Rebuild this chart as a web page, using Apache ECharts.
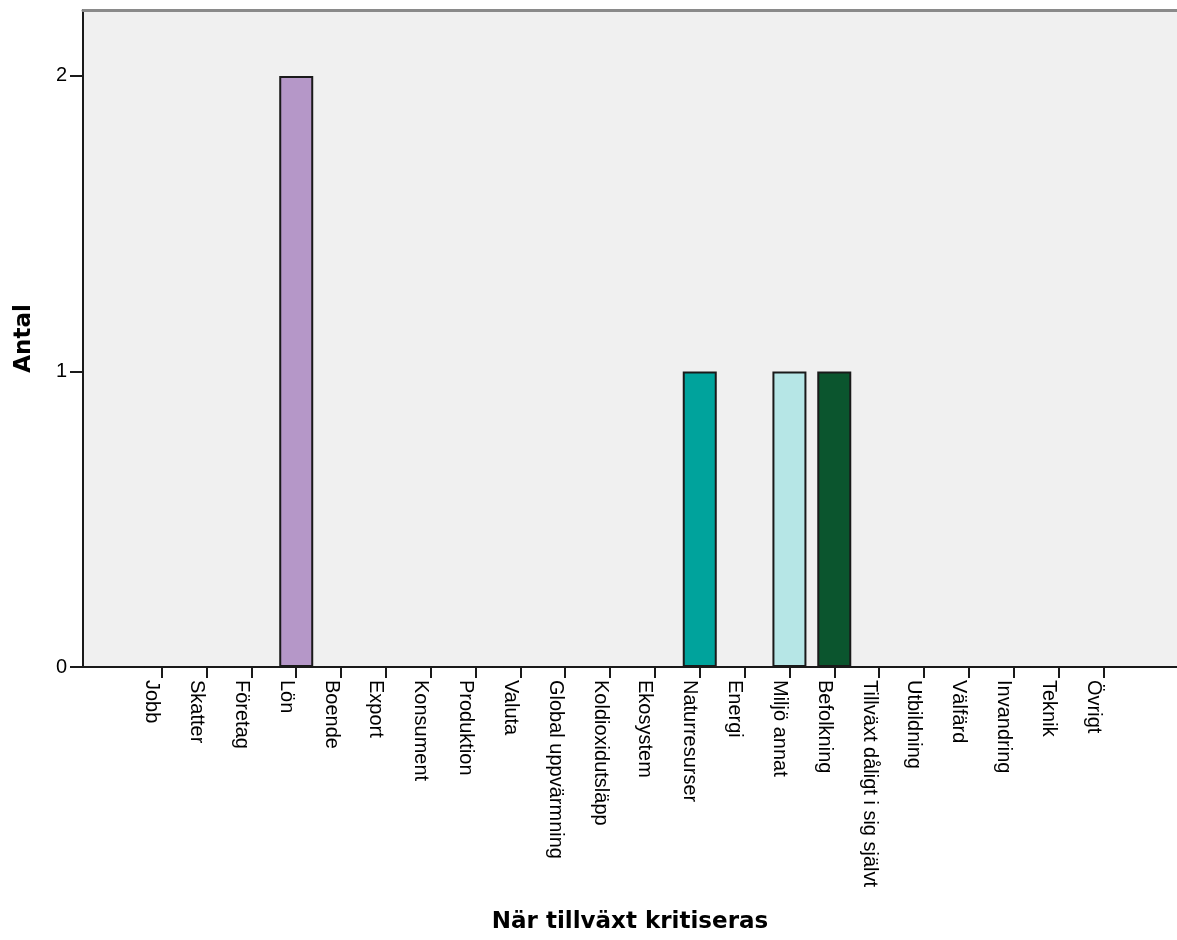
<!DOCTYPE html>
<html>
<head>
<meta charset="utf-8">
<script src="https://cdn.jsdelivr.net/npm/echarts@6/dist/echarts.min.js"></script>
<style>
html,body{margin:0;padding:0;background:#fff;}
#chart{width:1177px;height:940px;}
</style>
</head>
<body>
<div id="chart"></div>
<script>
const categories = ["Jobb","Skatter","Företag","Lön","Boende","Export","Konsument","Produktion","Valuta","Global uppvärmning","Koldioxidutsläpp","Ekosystem","Naturresurser","Energi","Miljö annat","Befolkning","Tillväxt dåligt i sig självt","Utbildning","Välfärd","Invandring","Teknik","Övrigt"];
const counts = [0,0,0,2,0,0,0,0,0,0,0,0,1,0,1,1,0,0,0,0,0,0];
const barColors = {"Lön":"#b597c8","Naturresurser":"#00a39c","Miljö annat":"#b6e6e6","Befolkning":"#0b552e"};
const yTicks = [0,1,2];
const yMax = 2.223;
const xTitle = "När tillväxt kritiseras";
const yTitle = "Antal";

const chart = echarts.init(document.getElementById('chart'), null, {renderer:'canvas'});
const labelFont = "'Liberation Sans', Arial, sans-serif";
const titleFont = "'DejaVu Sans', sans-serif";

const option = {
  animation: false,
  backgroundColor: '#ffffff',
  grid: [
    {left: 83, top: 10, right: 0, bottom: 273, show: true, backgroundColor: '#f0f0f0', borderWidth: 0},
    {left: 139.3, top: 10, right: 51.3, bottom: 273}
  ],
  xAxis: [
    {gridIndex: 0, type: 'value', position: 'top', min: 0, max: 1,
      axisLine: {show: true, onZero: false, lineStyle: {color: '#8a8a8a', width: 3}},
      axisTick: {show: false}, axisLabel: {show: false}, splitLine: {show: false}},
    {gridIndex: 0, type: 'value', position: 'bottom', min: 0, max: 1,
      name: xTitle, nameLocation: 'middle', nameGap: 244,
      nameTextStyle: {fontFamily: titleFont, fontWeight: 'bold', fontSize: 23, color: '#000'},
      axisLine: {show: true, onZero: false, lineStyle: {color: '#1a1a1a', width: 2}},
      axisTick: {show: false}, axisLabel: {show: false}, splitLine: {show: false}},
    {gridIndex: 1, type: 'category', data: categories, position: 'bottom',
      axisLine: {show: false},
      axisTick: {show: true, alignWithLabel: true, length: 11, lineStyle: {color: '#1a1a1a', width: 2}},
      axisLabel: {interval: 0, rotate: -90, margin: 13, fontSize: 20, fontFamily: labelFont, color: '#000', verticalAlign: 'top'},
      splitLine: {show: false}}
  ],
  yAxis: [
    {gridIndex: 0, type: 'value', min: 0, max: yMax,
      name: yTitle, nameLocation: 'middle', nameGap: 47,
      nameTextStyle: {fontFamily: titleFont, fontWeight: 'bold', fontSize: 23, color: '#000'},
      axisLine: {show: true, onZero: false, lineStyle: {color: '#1a1a1a', width: 2}},
      axisTick: {show: true, customValues: yTicks, length: 13, lineStyle: {color: '#1a1a1a', width: 2}},
      axisLabel: {customValues: yTicks, margin: 16, fontSize: 20, fontFamily: labelFont, color: '#000'},
      splitLine: {show: false}},
    {gridIndex: 1, type: 'value', min: 0, max: yMax, show: false}
  ],
  series: [{
    type: 'bar',
    xAxisIndex: 2, yAxisIndex: 1,
    data: counts,
    barWidth: 34,
    itemStyle: {
      color: function (p) { return barColors[categories[p.dataIndex]] || '#cccccc'; },
      borderColor: '#1a1a1a', borderWidth: 2
    }
  }]
};
chart.setOption(option);
</script>
</body>
</html>
